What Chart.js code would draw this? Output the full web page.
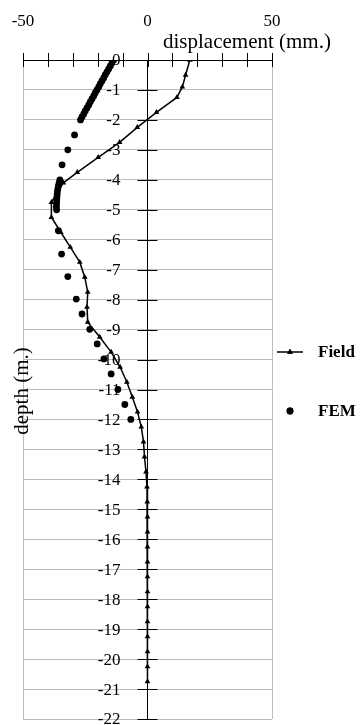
<!DOCTYPE html>
<html>
<head>
<meta charset="utf-8">
<script src="https://cdn.jsdelivr.net/npm/chart.js@4/dist/chart.umd.min.js"></script>
<style>html,body{margin:0;padding:0;background:#fff}canvas{display:block}</style>
</head>
<body>
<canvas id="c" width="360" height="725"></canvas>
<script>
// ---- data ----
const seriesNames = ['Field', 'FEM'];
const xTitle = 'displacement (mm.)';
const yTitle = 'depth (m.)';
const xTickLabels = [-50, 0, 50];

const fieldDepth = [0, -0.5, -0.9, -1.25, -1.75, -2.25, -2.75, -3.25, -3.75, -4.1, -4.75, -5.25, -5.75, -6.25, -6.75,
  -7.25, -7.75, -8.25, -8.75, -9.25, -9.75, -10.25, -10.75, -11.25, -11.75, -12.25, -12.75, -13.25, -13.75,
  -14.25, -14.75, -15.25, -15.75, -16.25, -16.75, -17.25, -17.75, -18.25, -18.75, -19.25, -19.75, -20.25, -20.75];
const fieldDisp = [17, 15.3, 14, 11.8, 3.6, -4.1, -11.2, -19.8, -28.2, -33.8, -38.6, -38.6, -34.8, -31, -27.2,
  -25.2, -24, -24.3, -24, -19.2, -14.6, -11, -8.3, -6.1, -4, -2.5, -1.6, -1.2, -0.6,
  -0.2, -0.1, 0, 0, 0, 0, 0, 0, 0, 0, 0, 0, 0, 0];

const femDepth = [0, -0.1, -0.2, -0.3, -0.4, -0.5, -0.6, -0.7, -0.8, -0.9, -1.0, -1.1, -1.2, -1.3, -1.4, -1.5,
  -1.6, -1.7, -1.8, -1.9, -2.0, -2.5, -3.0, -3.5,
  -4.0, -4.1, -4.2, -4.3, -4.4, -4.5, -4.6, -4.7, -4.8, -4.9, -5.0,
  -5.7, -6.48, -7.23, -7.98, -8.48, -8.99, -9.48, -9.98, -10.48, -11.0, -11.5, -12.0];
const femDisp = [-13.6, -14.3, -14.9, -15.6, -16.3, -17.0, -17.6, -18.3, -19.0, -19.6, -20.3, -21.0, -21.6, -22.3, -23.0, -23.6,
  -24.3, -25.0, -25.6, -26.3, -26.9, -29.3, -32.0, -34.3,
  -35.2, -35.5, -35.8, -36.0, -36.2, -36.3, -36.4, -36.5, -36.5, -36.6, -36.5,
  -35.8, -34.5, -32.0, -28.6, -26.3, -23.2, -20.2, -17.5, -14.6, -11.9, -9.1, -6.7];

const toPts = (xs, ys) => xs.map((x, i) => ({x: x, y: ys[i]}));
const SERIF = "'Liberation Serif', 'DejaVu Serif', serif";
const GRID = '#bdbdbd';

const decor = {
  id: 'decor',
  beforeDraw(chart) {
    const c = chart.ctx;
    c.save();
    c.fillStyle = '#fff';
    c.fillRect(0, 0, chart.width, chart.height);
    c.restore();
  },
  afterDraw(chart) {
    const c = chart.ctx;
    const xs = chart.scales.x, ys = chart.scales.y;
    const x0 = xs.getPixelForValue(0), y0 = ys.getPixelForValue(0);
    c.save();
    c.strokeStyle = '#000';
    c.lineWidth = 1;
    c.beginPath();
    xs.ticks.forEach(t => {
      const px = Math.round(xs.getPixelForValue(t.value)) + 0.5;
      c.moveTo(px, y0 - 7); c.lineTo(px, y0 + 7);
    });
    ys.ticks.forEach(t => {
      const py = Math.round(ys.getPixelForValue(t.value)) + 0.5;
      c.moveTo(x0 - 10, py); c.lineTo(x0 + 10, py);
    });
    c.stroke();

    // y tick labels, from the y scale's own ticks, set left of the x = 0 axis
    c.fillStyle = '#000';
    c.font = '17px ' + SERIF;
    c.textAlign = 'right';
    c.textBaseline = 'middle';
    ys.ticks.forEach(t => {
      c.fillText(String(t.value), x0 - 27, ys.getPixelForValue(t.value) + 1);
    });

    // axis titles
    c.font = '21px ' + SERIF;
    c.textAlign = 'left';
    c.textBaseline = 'alphabetic';
    c.fillText(xTitle, 163, 48);
    c.save();
    c.translate(28, 391);
    c.rotate(-Math.PI / 2);
    c.textAlign = 'center';
    c.fillText(yTitle, 0, 0);
    c.restore();

    // legend
    const items = [{ds: chart.data.datasets[0], y: 352}, {ds: chart.data.datasets[1], y: 411}];
    c.font = 'bold 17px ' + SERIF;
    c.textBaseline = 'middle';
    c.textAlign = 'left';
    items.forEach(it => {
      const ds = it.ds;
      if (ds.showLine) {
        c.strokeStyle = ds.borderColor;
        c.lineWidth = ds.borderWidth;
        c.beginPath();
        c.moveTo(277, it.y); c.lineTo(303, it.y);
        c.stroke();
      }
      c.fillStyle = ds.backgroundColor;
      Chart.helpers.drawPoint(c, {pointStyle: ds.pointStyle, radius: ds.pointRadius, rotation: 0, borderWidth: 0}, 290, it.y);
      c.fill();
      c.fillStyle = '#000';
      c.fillText(ds.label, 318, it.y + 1);
    });
    c.restore();
  }
};

new Chart(document.getElementById('c'), {
  type: 'scatter',
  data: {
    datasets: [
      {label: seriesNames[0], data: toPts(fieldDisp, fieldDepth), showLine: true, borderColor: '#000',
       backgroundColor: '#000', borderWidth: 1.5, pointStyle: 'triangle', pointRadius: 3.3, pointBorderWidth: 0, tension: 0},
      {label: seriesNames[1], data: toPts(femDisp, femDepth), showLine: false, borderColor: '#000',
       backgroundColor: '#000', pointStyle: 'circle', pointRadius: 3.4, pointBorderWidth: 0}
    ]
  },
  options: {
    responsive: false,
    animation: false,
    devicePixelRatio: 1,
    layout: {padding: {left: 23, top: 60, right: 88, bottom: 6}},
    plugins: {legend: {display: false}, tooltip: {enabled: false}},
    scales: {
      x: {
        type: 'linear', min: -50, max: 50, position: {y: 0},
        ticks: {stepSize: 10, autoSkip: false, maxRotation: 0, padding: -49, color: '#000',
                font: {family: SERIF, size: 17},
                callback: v => xTickLabels.includes(v) ? String(v) : ''},
        grid: {drawTicks: false, lineWidth: 1,
               color: c => (c.tick && (c.tick.value === -50 || c.tick.value === 50)) ? GRID : 'rgba(0,0,0,0)'},
        border: {display: true, color: '#000', width: 1},
        afterFit: s => { s.paddingLeft = 0; s.paddingRight = 0; s.paddingTop = 0; s.paddingBottom = 0; }
      },
      y: {
        type: 'linear', min: -22, max: 0, position: {x: 0},
        ticks: {display: false, stepSize: 1, autoSkip: false, font: {family: SERIF, size: 17}},
        grid: {drawTicks: false, lineWidth: 1,
               color: c => (c.tick && c.tick.value === 0) ? 'rgba(0,0,0,0)' : GRID},
        border: {display: true, color: '#000', width: 1},
        afterFit: s => { s.paddingLeft = 0; s.paddingRight = 0; s.paddingTop = 0; s.paddingBottom = 0; }
      }
    }
  },
  plugins: [decor]
});
</script>
</body>
</html>
